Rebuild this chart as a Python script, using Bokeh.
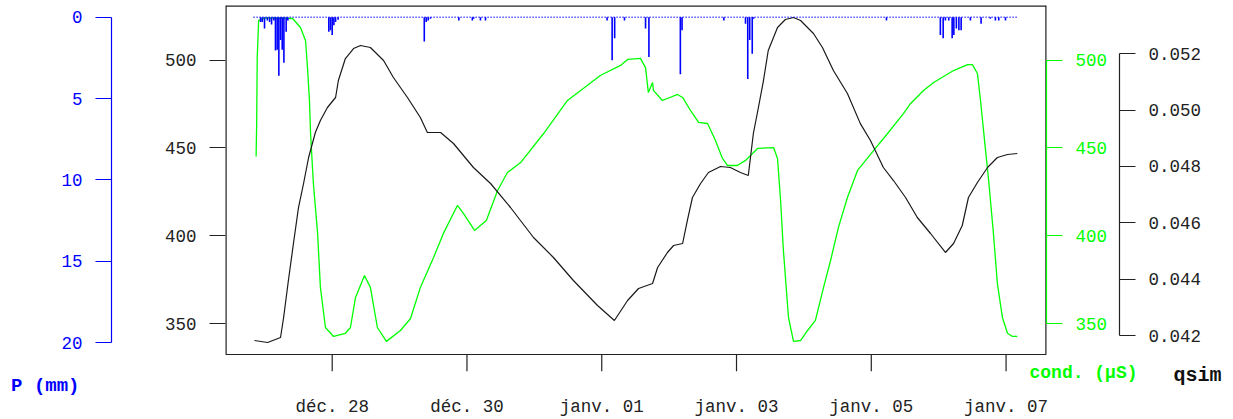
from bokeh.plotting import figure
from bokeh.models import Range1d, LinearAxis, FixedTicker, PrintfTickFormatter
from bokeh.embed import file_html
from bokeh.resources import INLINE

# time in hours since 28 Dec 00:00
xtick_hours = [0, 48, 96, 144, 192, 240]
xtick_labels = ["déc. 28", "déc. 30", "janv. 01", "janv. 03", "janv. 05", "janv. 07"]

# precipitation record (mm), nonzero hours; record spans p_start..p_end
p_start, p_end = -28.0, 244.0
p_t = [-25.5, -24.9, -24.1, -23.1, -22.3, -21.6, -20.8, -20.2, -19.6, -19.0, -18.4, -17.8, -17.2, -16.4, -15.8,
       -1.2, -0.6, 0.0, 0.6, 1.2, 2.1,
       32.8, 33.5, 34.2, 35.0,
       45.1, 49.9, 50.4, 52.8, 54.6,
       97.9, 99.7, 100.6, 104.1,
       111.6, 112.8, 124.0, 124.6, 139.5,
       147.2, 148.0, 148.7, 149.6, 150.1,
       197.4,
       216.6, 217.6, 218.4, 219.6, 220.8, 221.4, 222.3, 223.2, 224.0,
       227.3, 231.1, 234.4, 236.2, 237.4, 239.8]
p_v = [0.3, 0.3, 0.7, 0.2, 0.3, 0.45, 0.2, 2.05, 2.0, 3.6, 1.4, 2.0, 2.8, 0.9, 0.2,
       0.9, 0.8, 1.1, 0.5, 0.3, 0.15,
       1.5, 0.3, 0.2, 0.1,
       0.2, 0.2, 0.1, 0.2, 0.2,
       0.2, 2.65, 1.3, 0.2,
       0.7, 2.45, 3.5, 0.8, 0.2,
       0.4, 3.8, 1.4, 2.25, 0.1,
       0.2,
       1.1, 1.3, 0.2, 0.2, 1.3, 1.1, 0.7, 0.8, 0.8,
       0.2, 0.4, 0.1, 0.2, 0.2, 0.2]

# conductivity (µS)
cond_t = [-27.1, -26.9, -26.7, -26.2, -23.7, -14.1, -11.3, -9.5, -8.8, -8.1, -7.7, -6.7, -5.2, -4.2, -2.4,
          0.5, 4.7, 6.5, 8.3, 11.5, 13.6, 16.1, 19.3, 24.3, 27.9, 31.4, 36.1, 39.6, 44.6, 46.8, 50.7,
          54.9, 58.9, 62.4, 67.1, 75.3, 83.8, 95.5, 102.7, 105.2, 109.8, 111.6, 112.6, 114.1, 114.4,
          117.6, 119.4, 123.0, 124.8, 127.6, 130.5, 133.7, 136.5, 139.0, 140.8, 144.3, 147.2, 151.5,
          157.2, 158.6, 159.7, 160.7, 162.5, 164.3, 166.8, 169.3, 172.1, 175.0, 177.5, 180.3, 183.5,
          187.1, 192.8, 197.8, 203.5, 206.0, 210.6, 214.2, 221.3, 226.3, 228.0, 229.8, 230.9, 232.7,
          233.7, 235.5, 236.9, 238.7, 240.5, 242.3, 244.0]
cond_v = [445.1, 463.9, 501.4, 522.5, 523.9, 523.6, 518.5, 511.1, 495.7, 477.0, 458.2, 429.8, 401.4, 370.7, 347.9,
          342.8, 344.6, 347.9, 365.0, 377.5, 370.7, 347.9, 340.0, 346.2, 353.0, 370.7, 387.7, 401.4, 417.3, 412.7, 403.1,
          408.7, 425.8, 436.0, 441.7, 458.2, 477.0, 491.2, 496.9, 500.3, 500.9, 495.7, 481.5, 487.2, 482.7,
          477.0, 478.1, 480.4, 478.7, 471.3, 464.5, 463.9, 454.2, 444.0, 440.0, 440.0, 442.9, 449.7,
          450.2, 444.0, 420.1, 391.7, 353.6, 340.0, 340.5, 346.2, 351.9, 370.7, 386.0, 404.8, 421.8,
          437.2, 448.5, 458.2, 469.6, 475.3, 482.7, 487.2, 494.0, 497.4, 497.4, 492.3, 477.0, 448.5,
          433.2, 401.4, 373.0, 353.6, 344.6, 342.8, 342.8]

# simulated discharge
q_t = [-27.7, -23.0, -18.4, -17.3, -15.6, -13.8, -12.0, -10.2, -8.4, -6.0, -4.2, -1.7, 1.2, 2.2, 4.7,
       7.6, 10.1, 13.6, 18.3, 21.8, 26.8, 31.4, 33.9, 38.6, 43.2, 50.3, 56.4, 63.5, 71.7, 78.8, 85.9,
       94.5, 100.5, 105.2, 109.1, 114.1, 115.9, 119.4, 121.6, 124.8, 126.5, 128.3, 131.2, 134.0, 138.3,
       141.8, 145.4, 148.2, 150.0, 151.8, 153.6, 155.3, 158.6, 161.4, 164.3, 166.8, 171.4, 174.6, 178.5,
       183.5, 188.1, 191.7, 196.3, 199.9, 204.2, 208.4, 213.1, 218.4, 221.3, 224.4, 226.6, 229.8, 233.4,
       236.9, 240.5, 244.0]
q_v = [0.041822, 0.041751, 0.041929, 0.042639, 0.043952, 0.045266, 0.046544, 0.047396, 0.048319, 0.049206,
       0.049632, 0.050094, 0.050449, 0.051052, 0.051833, 0.052188, 0.052295, 0.052224, 0.051762, 0.051159,
       0.050449, 0.049739, 0.049206, 0.049206, 0.048816, 0.047964, 0.047396, 0.046544, 0.045479, 0.044769,
       0.043952, 0.043065, 0.042533, 0.043243, 0.043668, 0.043846, 0.044414, 0.044947, 0.045195, 0.045266,
       0.046083, 0.046899, 0.047396, 0.047787, 0.048000, 0.047964, 0.047787, 0.047680, 0.049171, 0.050094,
       0.051052, 0.052117, 0.052934, 0.053218, 0.053289, 0.053182, 0.052721, 0.052224, 0.051407, 0.050591,
       0.049522, 0.048922, 0.047964, 0.047502, 0.046899, 0.046189, 0.045621, 0.044947, 0.045266, 0.045905,
       0.046899, 0.047432, 0.047964, 0.048319, 0.048425, 0.048461]

p_ticks = [0, 5, 10, 15, 20]
cond_ticks = [350, 400, 450, 500]
q_ticks = [0.042, 0.044, 0.046, 0.048, 0.050, 0.052]

titles = ["P (mm)", "cond. (µS)", "qsim"]

FONT = "Liberation Mono"
FS = "17.5px"
GREEN = "#00ff00"
BLUE = "#0000ff"
DARK = "#222222"

# layout constants (plot box and its x ticks, in the conductivity scale)
X0, X1 = -38.0, 254.4
BOX_TOP, BOX_BOTTOM, TICK_END = 530.99, 332.54, 323.05

p = figure(width=1233, height=419, output_backend="svg", toolbar_location=None,
           x_range=Range1d(X0, X1), y_range=Range1d(308.66, BOX_TOP),
           y_axis_location=None, min_border_left=225, min_border_right=187,
           min_border_top=5, min_border_bottom=23)
p.extra_y_ranges = {"p": Range1d(23.30, -0.719), "q": Range1d(0.0398346, 0.053715)}
p.xgrid.visible = False
p.ygrid.visible = False
p.outline_line_color = None
p.background_fill_color = "white"
p.border_fill_color = "white"


def style(ax, color, label_color):
    ax.major_tick_out = 16
    ax.major_tick_in = 0
    ax.minor_tick_line_color = None
    ax.minor_tick_out = 0
    ax.minor_tick_in = 0
    ax.major_tick_line_color = color
    ax.major_tick_line_width = 1.2
    ax.axis_line_color = color
    ax.axis_line_width = 1.2
    ax.major_label_text_font = FONT
    ax.major_label_text_font_size = FS
    ax.major_label_text_color = label_color
    ax.major_label_standoff = 13


def title_axis(txt, pos, rng, fs, col, standoff):
    ta = LinearAxis(ticker=FixedTicker(ticks=[pos]), bounds=(pos - abs(pos) * 0.002, pos + abs(pos) * 0.002),
                    formatter=PrintfTickFormatter(format="%.6f"))
    if rng is not None:
        ta.y_range_name = rng
    ta.major_label_overrides = {pos: txt}
    ta.axis_line_color = None
    ta.major_tick_line_color = None
    ta.minor_tick_line_color = None
    ta.major_tick_out = 0
    ta.major_tick_in = 0
    ta.minor_tick_out = 0
    ta.minor_tick_in = 0
    ta.major_label_text_font = FONT
    ta.major_label_text_font_size = fs
    ta.major_label_text_font_style = "bold"
    ta.major_label_text_color = col
    ta.major_label_standoff = standoff
    return ta


# bottom axis (labels); its tick marks are drawn on the box below
xa = p.xaxis[0]
xa.ticker = FixedTicker(ticks=xtick_hours)
xa.major_label_overrides = {h: lab for h, lab in zip(xtick_hours, xtick_labels)}
style(xa, DARK, DARK)
xa.axis_line_color = None
xa.major_tick_line_color = None
xa.major_tick_out = 0
xa.major_label_standoff = 0

# inner left axis (conductivity scale, black)
ax_c = LinearAxis(ticker=FixedTicker(ticks=cond_ticks))
style(ax_c, DARK, DARK)
ax_c.axis_line_color = None
ax_c.axis_label = " "
ax_c.axis_label_text_font_size = "1px"
ax_c.axis_label_standoff = 46
p.add_layout(ax_c, "left")

# outer left axis: precipitation
ax_p = LinearAxis(y_range_name="p", ticker=FixedTicker(ticks=p_ticks), bounds=(0, 20))
style(ax_p, BLUE, BLUE)
p.add_layout(ax_p, "left")

# P title under the precipitation axis
p.add_layout(title_axis(titles[0], 22.68, "p", "19px", BLUE, -21), "left")

# right axis: conductivity (green)
ax_g = LinearAxis(ticker=FixedTicker(ticks=cond_ticks), bounds=(350, 500))
style(ax_g, GREEN, GREEN)
ax_g.axis_label = " "
ax_g.axis_label_text_font_size = "1px"
ax_g.axis_label_standoff = 5
p.add_layout(ax_g, "right")

# outer right axis: qsim
ax_q = LinearAxis(y_range_name="q", ticker=FixedTicker(ticks=q_ticks), bounds=(0.042, 0.052),
                  formatter=PrintfTickFormatter(format="%.3f"))
style(ax_q, DARK, DARK)
p.add_layout(ax_q, "right")

# titles under the right axes
p.add_layout(title_axis(titles[2], 0.04058, "q", "20px", "#111111", -31), "right")
p.add_layout(title_axis(titles[1], 321.74, None, "18px", GREEN, -195), "right")

# plot box and x tick marks
p.segment(x0=[X0, X1, X0, X0], y0=[BOX_BOTTOM, BOX_BOTTOM, BOX_TOP, BOX_BOTTOM],
          x1=[X0, X1, X1, X1], y1=[BOX_TOP, BOX_TOP, BOX_TOP, BOX_BOTTOM],
          line_color=DARK, line_width=[2.4, 2.4, 2.4, 1.2])
p.segment(x0=xtick_hours, y0=[BOX_BOTTOM] * len(xtick_hours), x1=xtick_hours,
          y1=[TICK_END] * len(xtick_hours), line_color=DARK, line_width=1.2)

# series
p.line(cond_t, cond_v, line_color=GREEN, line_width=1.3)
p.line(q_t, q_v, y_range_name="q", line_color="#1a1a1a", line_width=1.2)
p.line([p_start, p_end], [0, 0], y_range_name="p", line_color=BLUE, line_width=1.6, line_dash="1 2")
p.segment(x0=p_t, y0=[0] * len(p_t), x1=p_t, y1=p_v, y_range_name="p", line_color=BLUE, line_width=1.6)

open("out.html", "w").write(file_html(p, INLINE))
